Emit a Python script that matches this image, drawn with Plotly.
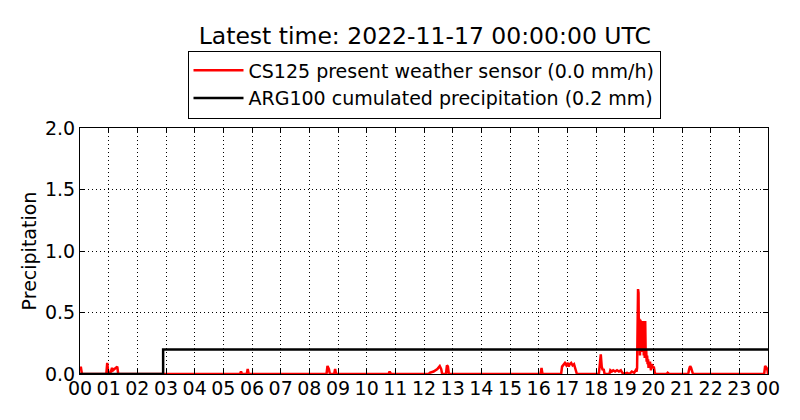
import pandas as pd
import plotly.graph_objects as go

day = "2022-11-16"

# CS125 present weather sensor (mm/h)
cs125_times = [
    "00:00", "00:02", "00:04",
    "00:55", "00:57", "00:59", "01:03", "01:07", "01:09", "01:12", "01:16", "01:18", "01:20",
    "05:35", "05:37", "05:39", "05:49", "05:51", "05:53",
    "08:36", "08:38", "08:41", "08:43", "08:52", "08:54", "08:56",
    "10:46", "10:48", "10:51",
    "12:10", "12:12", "12:20", "12:28", "12:33", "12:36", "12:38", "12:46", "12:48", "12:50", "12:52",
    "16:04", "16:06", "16:08",
    "16:47", "16:49", "16:52", "16:55", "16:58", "17:01", "17:03", "17:05", "17:08", "17:11",
    "17:14", "17:16", "17:18", "17:20",
    "18:06", "18:08", "18:10", "18:12", "18:14", "18:16", "18:18",
    "18:28", "18:30", "18:33", "18:36", "18:40", "18:44", "18:48", "18:52", "18:55", "18:58",
    "19:05", "19:10", "19:15", "19:20", "19:23", "19:25",
    "19:26", "19:27", "19:28", "19:29", "19:30", "19:31", "19:32", "19:33", "19:34", "19:35",
    "19:36", "19:37", "19:38", "19:39", "19:40", "19:41", "19:42", "19:43", "19:44", "19:45",
    "19:46", "19:47", "19:48", "19:49", "19:50", "19:51", "19:52", "19:53", "19:55", "19:57",
    "19:59", "20:01", "20:03", "20:05",
    "20:28", "20:30", "20:33",
    "21:13", "21:15", "21:17", "21:19", "21:21", "21:23",
    "23:52", "23:54", "23:57", "23:59", "24:00",
]
cs125_values = [
    0.05, 0.05, 0.0,
    0.0, 0.09, 0.02, 0.0, 0.05, 0.03, 0.04, 0.06, 0.06, 0.0,
    0.0, 0.02, 0.0, 0.0, 0.04, 0.0,
    0.0, 0.065, 0.04, 0.0, 0.0, 0.04, 0.0,
    0.0, 0.02, 0.0,
    0.0, 0.01, 0.02, 0.04, 0.065, 0.04, 0.0, 0.0, 0.07, 0.06, 0.0,
    0.0, 0.05, 0.0,
    0.0, 0.06, 0.08, 0.09, 0.07, 0.09, 0.06, 0.08, 0.09, 0.07,
    0.08, 0.05, 0.02, 0.0,
    0.0, 0.08, 0.16, 0.06, 0.03, 0.04, 0.0,
    0.0, 0.03, 0.02, 0.03, 0.02, 0.03, 0.02, 0.03, 0.01, 0.0,
    0.01, 0.0, 0.02, 0.01, 0.03, 0.02,
    0.05, 0.68, 0.69, 0.66, 0.2, 0.45, 0.15, 0.44, 0.2, 0.43,
    0.18, 0.42, 0.2, 0.43, 0.15, 0.43, 0.13, 0.43, 0.15, 0.2,
    0.1, 0.15, 0.08, 0.12, 0.05, 0.1, 0.06, 0.1, 0.03, 0.08,
    0.05, 0.06, 0.01, 0.0,
    0.0, 0.01, 0.0,
    0.0, 0.04, 0.065, 0.05, 0.02, 0.0,
    0.0, 0.065, 0.05, 0.03, 0.0,
]

# ARG100 cumulated precipitation (mm), step at ~02:54
arg100_times = ["00:00", "02:54", "24:00"]
arg100_values = [0.0, 0.2, 0.2]

hour_labels = ["%02d" % h for h in range(24)] + ["00"]


def to_dt(times):
    base = pd.Timestamp(day)
    out = []
    for t in times:
        h, m = t.split(":")
        out.append(base + pd.Timedelta(hours=int(h), minutes=int(m)))
    return out


cs_x = to_dt(cs125_times)
arg_x = to_dt(arg100_times)
tick_vals = [pd.Timestamp(day) + pd.Timedelta(hours=h) for h in range(25)]

fig = go.Figure()
fig.add_trace(
    go.Scatter(
        x=cs_x,
        y=cs125_values,
        mode="lines",
        line=dict(color="red", width=2.5),
        name="CS125 present weather sensor (0.0 mm/h)",
    )
)
fig.add_trace(
    go.Scatter(
        x=arg_x,
        y=arg100_values,
        mode="lines",
        line=dict(color="black", width=2.5, shape="hv"),
        name="ARG100 cumulated precipitation (0.2 mm)",
    )
)

axis_common = dict(
    showline=True,
    linecolor="black",
    linewidth=1,
    mirror="ticks",
    ticks="inside",
    ticklen=5,
    tickcolor="black",
    showgrid=True,
    gridcolor="black",
    griddash="1px,3px",
    gridwidth=1,
    zeroline=False,
    tickfont=dict(size=19, color="black"),
)

fig.update_xaxes(
    range=[tick_vals[0], tick_vals[-1]],
    tickvals=tick_vals,
    ticktext=hour_labels,
    ticklabelstandoff=-3,
    **axis_common,
)
fig.update_yaxes(
    range=[0, 2.0],
    tickvals=[0, 0.5, 1.0, 1.5, 2.0],
    ticktext=["0.0", "0.5", "1.0", "1.5", "2.0"],
    title=dict(text="Precipitation", font=dict(size=19, color="black"), standoff=3),
    **axis_common,
)

# the page body adds an 8px offset, so margins are trimmed by 8px on top/left
fig.update_layout(
    width=800,
    height=420,
    margin=dict(l=72, r=40, t=120, b=54, autoexpand=False),
    paper_bgcolor="white",
    plot_bgcolor="white",
    font=dict(family="DejaVu Sans", color="black"),
    title=dict(
        text="Latest time: 2022-11-17 00:00:00 UTC",
        x=0.521,
        xanchor="center",
        y=0.934,
        yanchor="middle",
        font=dict(size=23.5, color="black"),
    ),
    legend=dict(
        x=0.5,
        xanchor="center",
        y=1.315,
        yanchor="top",
        bordercolor="black",
        borderwidth=1,
        bgcolor="white",
        font=dict(size=19, color="black"),
        itemwidth=50,
    ),
    showlegend=True,
)

fig.write_html("out.html")
